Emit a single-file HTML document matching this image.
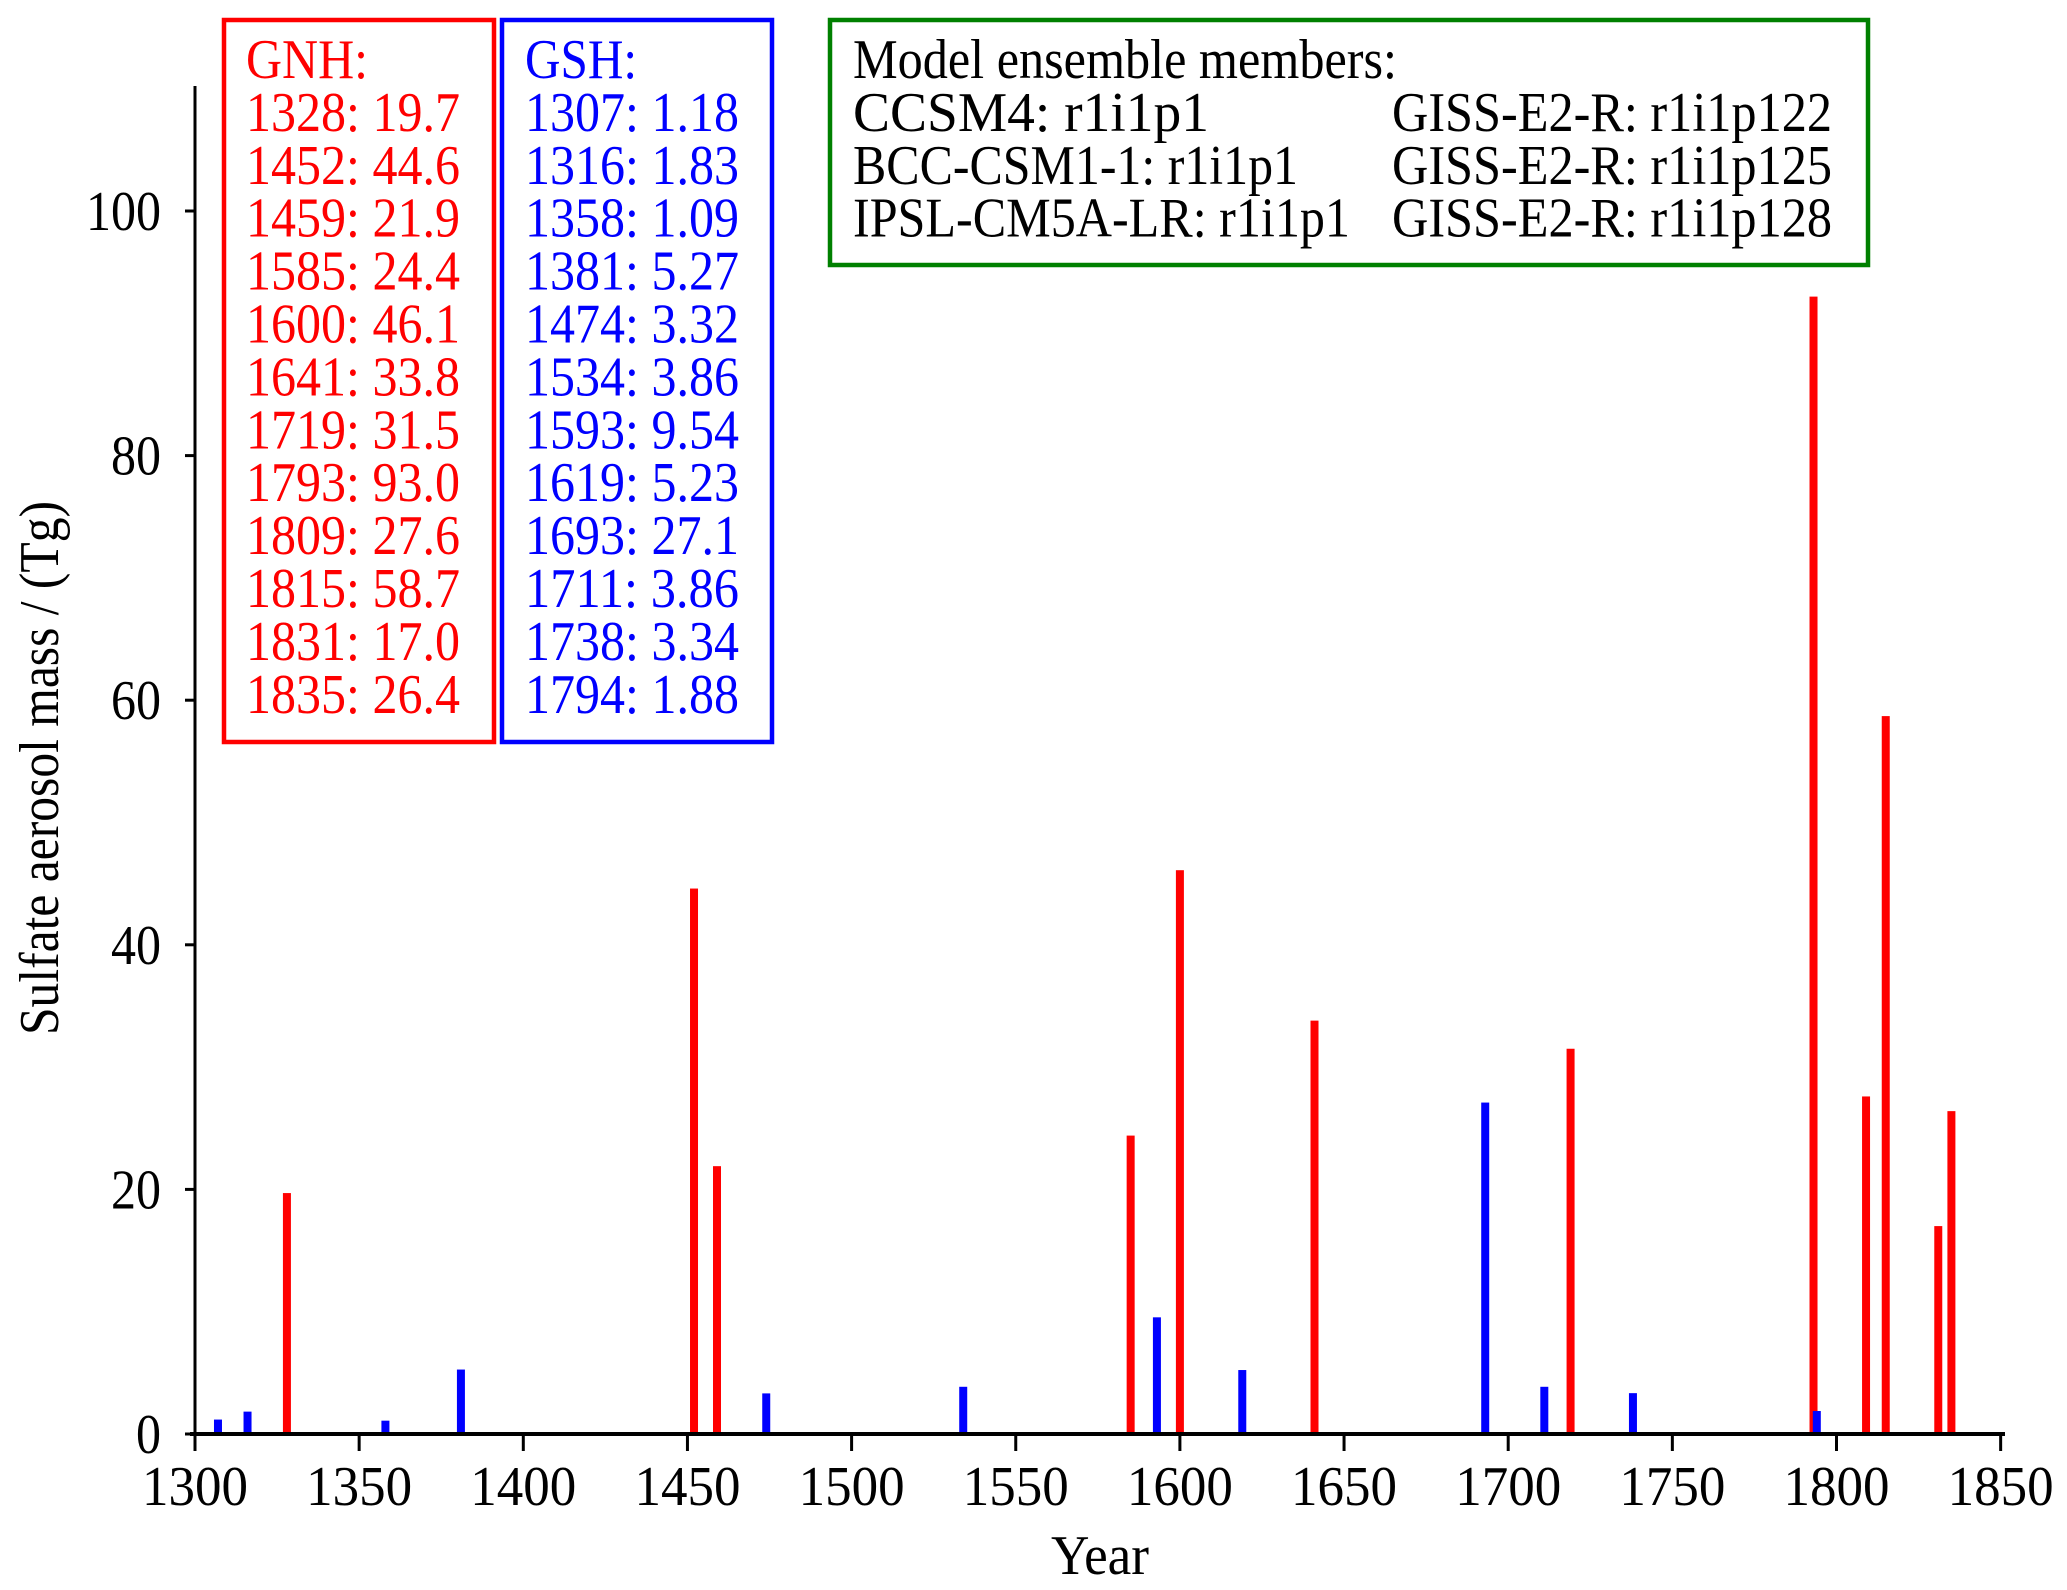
<!DOCTYPE html>
<html><head><meta charset="utf-8"><style>
html,body{margin:0;padding:0;background:#fff;}
svg{display:block;font-family:"Liberation Serif",serif;}
</style></head><body>
<svg id="chart" width="2067" height="1590" viewBox="0 0 2067 1590" xmlns="http://www.w3.org/2000/svg">
<g id="bars"></g>
<g id="axes"></g>
<g id="legends"></g>
</svg>
<script>
const gnhYears = [1328,1452,1459,1585,1600,1641,1719,1793,1809,1815,1831,1835];
const gnhValues = [19.7,44.6,21.9,24.4,46.1,33.8,31.5,93.0,27.6,58.7,17.0,26.4];
const gnhLabels = ["19.7","44.6","21.9","24.4","46.1","33.8","31.5","93.0","27.6","58.7","17.0","26.4"];
const gshYears = [1307,1316,1358,1381,1474,1534,1593,1619,1693,1711,1738,1794];
const gshValues = [1.18,1.83,1.09,5.27,3.32,3.86,9.54,5.23,27.1,3.86,3.34,1.88];
const gshLabels = ["1.18","1.83","1.09","5.27","3.32","3.86","9.54","5.23","27.1","3.86","3.34","1.88"];
const xTicks = [1300,1350,1400,1450,1500,1550,1600,1650,1700,1750,1800,1850];
const yTicks = [0,20,40,60,80,100];
const models = ["CCSM4: r1i1p1","BCC-CSM1-1: r1i1p1","IPSL-CM5A-LR: r1i1p1"];
const models2 = ["GISS-E2-R: r1i1p122","GISS-E2-R: r1i1p125","GISS-E2-R: r1i1p128"];

const NS="http://www.w3.org/2000/svg";
const X0=195, XPY=3.283, Y0=1434, PPU=12.23;
const FS=56;
const xs=y=>X0+(y-1300)*XPY;
const ys=v=>Y0-v*PPU;
function mk(tag,attrs,parent,text){const e=document.createElementNS(NS,tag);for(const k in attrs)e.setAttribute(k,attrs[k]);if(text!==undefined)e.textContent=text;parent.appendChild(e);return e;}
const bars=document.getElementById('bars'),axes=document.getElementById('axes'),leg=document.getElementById('legends');

gnhYears.forEach((yr,i)=>{const r=mk('rect',{x:xs(yr)-4,y:ys(gnhValues[i]),width:8,height:Y0-ys(gnhValues[i]),fill:'#ff0000'},bars);

});
gshYears.forEach((yr,i)=>{const r=mk('rect',{x:xs(yr)-4,y:ys(gshValues[i]),width:8,height:Y0-ys(gshValues[i]),fill:'#0000ff'},bars);

});

let a=mk('line',{x1:190,y1:Y0,x2:2005,y2:Y0,stroke:'#000','stroke-width':4},axes);


a=mk('line',{x1:195,y1:86,x2:195,y2:Y0+2,stroke:'#000','stroke-width':3},axes);


xTicks.forEach(t=>{mk('line',{x1:xs(t),y1:Y0,x2:xs(t),y2:Y0+17,stroke:'#000','stroke-width':3},axes);
const tx=mk('text',{x:xs(t),y:Y0+71,'font-size':FS,'text-anchor':'middle',textLength:106,lengthAdjust:'spacingAndGlyphs'},axes,String(t));

});
yTicks.forEach(t=>{mk('line',{x1:185,y1:ys(t),x2:195,y2:ys(t),stroke:'#000','stroke-width':3},axes);
const s=String(t);
const tx=mk('text',{x:161,y:ys(t)+19,'font-size':FS,'text-anchor':'end',textLength:s.length*25,lengthAdjust:'spacingAndGlyphs'},axes,s);

});
let t=mk('text',{x:1100,y:1574,'font-size':FS,'text-anchor':'middle',textLength:98,lengthAdjust:'spacingAndGlyphs'},axes,'Year');


t=mk('text',{x:0,y:0,'font-size':FS,'text-anchor':'middle',transform:'translate(58,768) rotate(-90)',textLength:534,lengthAdjust:'spacingAndGlyphs'},axes,'Sulfate aerosol mass / (Tg)');



let b=mk('rect',{x:224,y:20,width:270,height:722,fill:'none',stroke:'#ff0000','stroke-width':4.5},leg);


b=mk('rect',{x:502,y:20,width:270,height:722,fill:'none',stroke:'#0000ff','stroke-width':4.5},leg);


b=mk('rect',{x:830,y:20,width:1038,height:245,fill:'none',stroke:'#008000','stroke-width':4.5},leg);


const LH=52.9, BL=78;
t=mk('text',{x:246,y:BL,'font-size':FS,fill:'#ff0000',textLength:122,lengthAdjust:'spacingAndGlyphs'},leg,'GNH:');


t=mk('text',{x:525,y:BL,'font-size':FS,fill:'#0000ff',textLength:112,lengthAdjust:'spacingAndGlyphs'},leg,'GSH:');


gnhYears.forEach((yr,i)=>{const e=mk('text',{x:246,y:BL+LH*(i+1),'font-size':FS,fill:'#ff0000',textLength:214,lengthAdjust:'spacingAndGlyphs'},leg,yr+': '+gnhLabels[i]);

});
gshYears.forEach((yr,i)=>{const e=mk('text',{x:525,y:BL+LH*(i+1),'font-size':FS,fill:'#0000ff',textLength:214,lengthAdjust:'spacingAndGlyphs'},leg,yr+': '+gshLabels[i]);

});
t=mk('text',{x:853,y:BL,'font-size':FS,textLength:544,lengthAdjust:'spacingAndGlyphs'},leg,'Model ensemble members:');


const mw=[356,445,497];
models.forEach((m,i)=>{const e=mk('text',{x:853,y:BL+LH*(i+1),'font-size':FS,textLength:mw[i],lengthAdjust:'spacingAndGlyphs'},leg,m);

});
models2.forEach((m,i)=>{const e=mk('text',{x:1392,y:BL+LH*(i+1),'font-size':FS,textLength:440,lengthAdjust:'spacingAndGlyphs'},leg,m);

});
</script>
</body></html>
